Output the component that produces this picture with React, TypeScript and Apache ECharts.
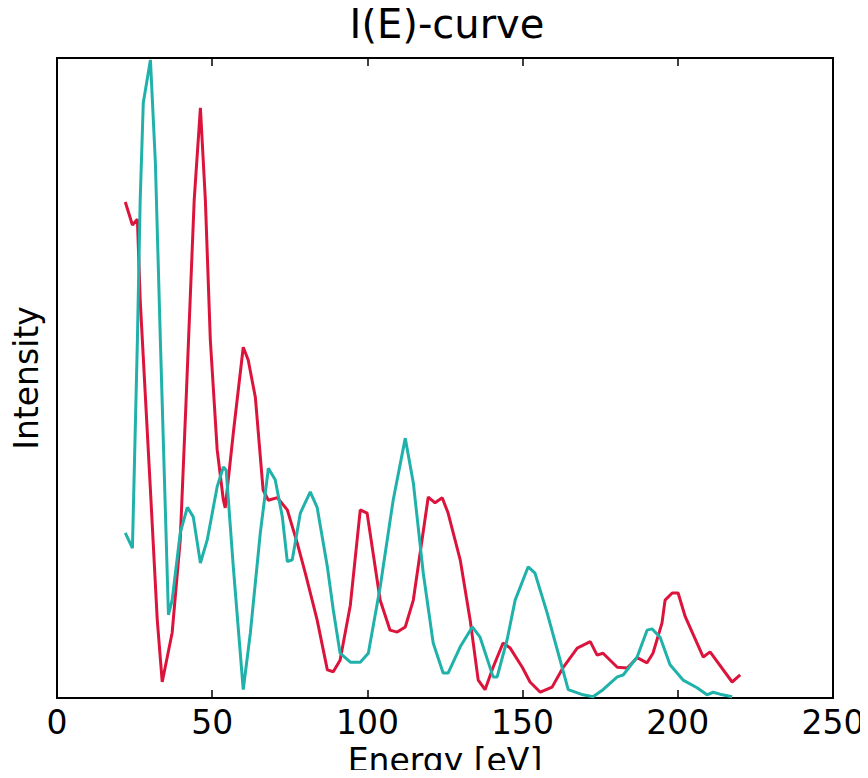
import React, { useEffect, useRef } from "react";
import * as echarts from "echarts";

const xTicks = [0, 50, 100, 150, 200, 250];

const redEnergy = [
  22.0, 24.3, 25.9, 26.8, 30.1, 32.3, 33.9, 37.1, 39.7, 41.6, 42.9, 44.2, 46.2, 47.8, 49.4, 51.6,
  53.6, 54.2, 56.8, 60.0, 61.6, 63.9, 66.4, 68.1, 71.0, 74.2, 77.4, 80.0, 83.8, 87.1, 89.0, 91.2,
  94.5, 97.7, 99.9, 104.1, 107.3, 109.6, 112.2, 114.8, 119.6, 121.8, 124.1, 126.0, 129.9, 133.1,
  135.7, 137.9, 140.5, 143.7, 146.0, 149.9, 152.4, 155.7, 159.5, 163.1, 167.6, 171.8, 174.0, 175.9,
  180.5, 183.7, 186.9, 190.1, 192.0, 194.9, 195.9, 198.2, 200.1, 202.4, 208.2, 210.4, 217.5, 220.1,
];
const redIntensity = [
  0.775, 0.739, 0.748, 0.622, 0.325, 0.122, 0.025, 0.102, 0.247, 0.466, 0.622, 0.778, 0.922, 0.778,
  0.559, 0.388, 0.309, 0.297, 0.414, 0.548, 0.528, 0.47, 0.325, 0.309, 0.313, 0.294, 0.242, 0.195,
  0.122, 0.044, 0.041, 0.059, 0.145, 0.294, 0.289, 0.153, 0.106, 0.103, 0.111, 0.153, 0.314, 0.305,
  0.313, 0.289, 0.216, 0.122, 0.028, 0.013, 0.048, 0.086, 0.078, 0.048, 0.025, 0.009, 0.017, 0.048,
  0.078, 0.088, 0.067, 0.07, 0.048, 0.047, 0.063, 0.055, 0.07, 0.117, 0.153, 0.164, 0.164, 0.127,
  0.064, 0.072, 0.025, 0.036,
];

const tealEnergy = [
  22.0, 24.3, 24.9, 25.9, 26.8, 27.8, 30.1, 31.7, 33.3, 35.9, 37.1, 39.7, 42.0, 43.9, 46.2, 48.4,
  51.6, 53.6, 54.5, 56.8, 60.0, 62.3, 65.5, 68.1, 70.3, 72.6, 74.2, 75.8, 78.4, 81.6, 83.8, 87.1,
  89.0, 91.2, 94.5, 97.7, 100.3, 104.1, 108.3, 112.2, 114.8, 118.0, 121.2, 124.4, 126.0, 129.9,
  133.8, 136.3, 140.5, 141.8, 145.0, 147.6, 151.8, 154.0, 157.9, 162.1, 164.7, 169.5, 172.7, 175.9,
  180.5, 182.4, 186.9, 190.1, 191.7, 194.3, 197.5, 201.7, 206.2, 209.4, 211.4, 213.6, 217.5,
];
const tealIntensity = [
  0.258, 0.234, 0.356, 0.559, 0.778, 0.93, 0.997, 0.836, 0.559, 0.13, 0.153, 0.258, 0.298, 0.283,
  0.211, 0.247, 0.33, 0.361, 0.356, 0.205, 0.013, 0.102, 0.258, 0.359, 0.341, 0.283, 0.213, 0.216,
  0.289, 0.322, 0.298, 0.205, 0.138, 0.07, 0.056, 0.056, 0.07, 0.173, 0.309, 0.406, 0.336, 0.195,
  0.086, 0.039, 0.039, 0.08, 0.111, 0.095, 0.033, 0.033, 0.091, 0.153, 0.205, 0.195, 0.133, 0.059,
  0.013, 0.005, 0.002, 0.013, 0.033, 0.036, 0.064, 0.106, 0.108, 0.095, 0.052, 0.028, 0.016, 0.005,
  0.009, 0.006, 0.002,
];

const FONT = "DejaVu Sans";

export default function App() {
  const ref = useRef<HTMLDivElement>(null);
  useEffect(() => {
    if (!ref.current) return;
    const chart = echarts.init(ref.current, undefined, { renderer: "svg" });
    const redData = redEnergy.map((e, i) => [e, redIntensity[i]]);
    const tealData = tealEnergy.map((e, i) => [e, tealIntensity[i]]);
    const tickCommon = {
      type: "value" as const,
      min: xTicks[0],
      max: xTicks[xTicks.length - 1],
      interval: 50,
      splitLine: { show: false },
      axisLine: { show: false },
      axisTick: { show: true, inside: true, length: 8, lineStyle: { color: "#000", width: 1.5 } },
    };
    chart.setOption({
      animation: false,
      backgroundColor: "#fff",
      title: {
        text: "I(E)-curve",
        left: 447,
        textAlign: "center",
        top: 4,
        padding: 0,
        textStyle: { fontSize: 40, fontWeight: "normal", color: "#000", fontFamily: FONT },
      },
      grid: {
        left: 57,
        right: 35,
        top: 58,
        bottom: 80,
        show: true,
        borderColor: "#000",
        borderWidth: 2,
        backgroundColor: "#fff",
        outerBoundsMode: "none",
        containLabel: false,
      },
      xAxis: [
        {
          ...tickCommon,
          position: "bottom",
          name: "Energy [eV]",
          nameLocation: "middle",
          nameGap: 43,
          nameTextStyle: { fontSize: 33, color: "#000", fontFamily: FONT },
          axisLabel: {
            show: true,
            fontSize: 33,
            color: "#000",
            fontFamily: FONT,
            margin: 8,
            showMinLabel: true,
            showMaxLabel: true,
          },
        },
        {
          ...tickCommon,
          position: "top",
          axisLabel: { show: false },
        },
      ],
      yAxis: {
        type: "value",
        min: 0,
        max: 1,
        name: "Intensity",
        nameLocation: "middle",
        nameGap: 14,
        nameTextStyle: { fontSize: 33, color: "#000", fontFamily: FONT },
        axisLine: { show: false },
        axisTick: { show: false },
        axisLabel: { show: false },
        splitLine: { show: false },
      },
      series: [
        {
          type: "line",
          data: redData,
          showSymbol: false,
          lineStyle: { color: "#dc143c", width: 3 },
          itemStyle: { color: "#dc143c" },
          z: 2,
        },
        {
          type: "line",
          data: tealData,
          showSymbol: false,
          lineStyle: { color: "#20b2aa", width: 3 },
          itemStyle: { color: "#20b2aa" },
          z: 3,
        },
      ],
    });
    return () => chart.dispose();
  }, []);
  return <div ref={ref} style={{ width: 868, height: 778, margin: -8 }} />;
}
